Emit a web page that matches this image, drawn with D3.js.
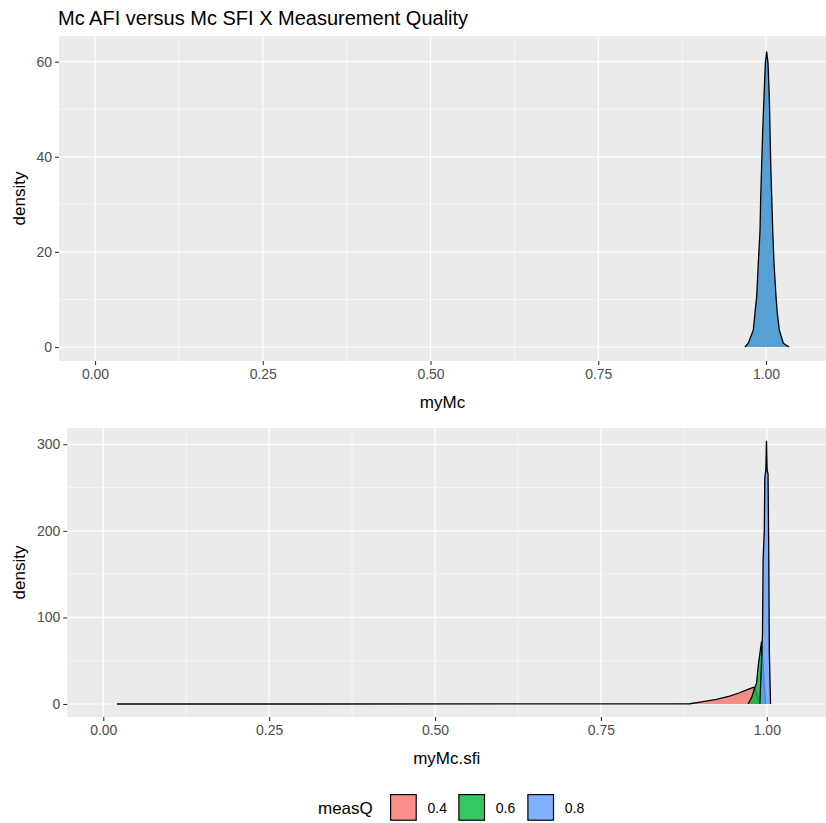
<!DOCTYPE html>
<html>
<head>
<meta charset="utf-8">
<script src="https://cdn.jsdelivr.net/npm/d3@7"></script>
<style>
  body { margin: 0; background: #fff; }
  svg { display: block; font-family: Arial, "Liberation Sans", sans-serif; }
</style>
</head>
<body>
<svg id="chart" width="826" height="823"></svg>
<script>
// ---------------- DATA ----------------
const chartTitle = "Mc AFI versus Mc SFI X Measurement Quality";
const xTicks = [0, 0.25, 0.5, 0.75, 1];
const xTickLabels = ["0.00", "0.25", "0.50", "0.75", "1.00"];
const topYTicks = [0, 20, 40, 60];
const bottomYTicks = [0, 100, 200, 300];
const legendTitle = "measQ";
const legendLabels = ["0.4", "0.6", "0.8"];
const legendColors = ["#F8766D", "#00BA38", "#619CFF"];

// top panel: density of myMc
const topX = [0.9687, 0.9736, 0.9811, 0.9836, 0.9861, 0.9885, 0.9911, 0.9921, 0.9936, 0.9951, 0.9970, 0.9990, 1.0010,
              1.0030, 1.0049, 1.0060, 1.0070, 1.0085, 1.0100, 1.0119, 1.0149, 1.0168, 1.0198, 1.0258, 1.0343];
const topDensity = [0, 0.8, 3.6, 7.2, 10.6, 17.6, 24.6, 31.6, 38.6, 45.6, 52.6, 59.7, 62.1,
                    59.7, 52.6, 45.6, 38.6, 31.6, 24.6, 17.6, 10.6, 7.2, 3.6, 0.8, 0];

// bottom panel: density of myMc.sfi by measQ
const redX = [0.0206, 0.30, 0.60, 0.80, 0.884, 0.904, 0.924, 0.944, 0.959, 0.9718, 0.9794, 0.9819, 0.9864, 0.9894];
const redDensity = [0, 0.01, 0.05, 0.15, 0.3, 2.7, 5.4, 9.2, 13, 17, 19.3, 19, 8, 0];
const greenX = [0.9718, 0.9774, 0.9819, 0.9845, 0.9875, 0.9902, 0.9920, 0.9940, 0.9962, 0.9985];
const greenDensity = [0, 8, 19, 24, 47, 62, 72, 50, 20, 0];
const blueX = [0.9895, 0.9920, 0.9935, 0.9944, 0.9962, 0.9970, 0.9985, 0.9995, 1.0005, 1.0019, 1.0030, 1.0038, 1.0056];
const blueDensity = [0, 47, 82, 166, 200, 262, 270, 304, 270, 266, 166, 60, 0];

// ---------------- DRAW ----------------
const svg = d3.select("#chart");
const tickCol = "#333333", labCol = "#4D4D4D";
const tickFont = 14, titleFont = 17;

svg.append("text").attr("x", 58).attr("y", 25).attr("font-size", 20).attr("fill", "#000").text(chartTitle);

function panel(cfg) {
  const g = svg.append("g");
  const x = d3.scaleLinear().domain(cfg.xDomain).range([cfg.left, cfg.right]);
  const y = d3.scaleLinear().domain(cfg.yDomain).range([cfg.bottom, cfg.top]);
  g.append("rect").attr("x", cfg.left).attr("y", cfg.top)
    .attr("width", cfg.right - cfg.left).attr("height", cfg.bottom - cfg.top).attr("fill", "#EBEBEB");
  // minor grid
  const xMinor = xTicks.slice(0, -1).map((t, i) => (t + xTicks[i + 1]) / 2);
  const yMinor = cfg.yTicks.slice(0, -1).map((t, i) => (t + cfg.yTicks[i + 1]) / 2);
  g.selectAll(".xm").data(xMinor).enter().append("line")
    .attr("x1", d => x(d)).attr("x2", d => x(d)).attr("y1", cfg.top).attr("y2", cfg.bottom)
    .attr("stroke", "#fff").attr("stroke-width", 0.6);
  g.selectAll(".ym").data(yMinor).enter().append("line")
    .attr("y1", d => y(d)).attr("y2", d => y(d)).attr("x1", cfg.left).attr("x2", cfg.right)
    .attr("stroke", "#fff").attr("stroke-width", 0.6);
  g.selectAll(".xM").data(xTicks).enter().append("line")
    .attr("x1", d => x(d)).attr("x2", d => x(d)).attr("y1", cfg.top).attr("y2", cfg.bottom)
    .attr("stroke", "#fff").attr("stroke-width", 1.2);
  g.selectAll(".yM").data(cfg.yTicks).enter().append("line")
    .attr("y1", d => y(d)).attr("y2", d => y(d)).attr("x1", cfg.left).attr("x2", cfg.right)
    .attr("stroke", "#fff").attr("stroke-width", 1.2);

  // series
  cfg.series.forEach(s => {
    const pts = s.xs.map((v, i) => [v, s.ys[i]]);
    const area = d3.area().x(d => x(d[0])).y0(y(0)).y1(d => y(d[1]));
    const line = d3.line().x(d => x(d[0])).y(d => y(d[1]));
    g.append("path").attr("d", area(pts)).attr("fill", s.fill).attr("fill-opacity", s.opacity);
    g.append("path").attr("d", line(pts)).attr("fill", "none").attr("stroke", "#000").attr("stroke-width", 1.3);
  });

  // axes
  const xAxis = d3.axisBottom(x).tickValues(xTicks).tickFormat((d, i) => xTickLabels[i]).tickSize(4).tickPadding(3);
  const ax = g.append("g").attr("transform", `translate(0,${cfg.bottom})`).call(xAxis);
  const yAxis = d3.axisLeft(y).tickValues(cfg.yTicks).tickSize(4).tickPadding(3);
  const ay = g.append("g").attr("transform", `translate(${cfg.left},0)`).call(yAxis);
  [ax, ay].forEach(a => {
    a.select(".domain").remove();
    a.selectAll(".tick line").attr("stroke", tickCol).attr("stroke-width", 1.1);
    a.selectAll(".tick text").attr("fill", labCol).attr("font-size", tickFont)
      .attr("font-family", 'Arial, "Liberation Sans", sans-serif');
  });
  ax.selectAll(".tick text").attr("dy", "0.75em");

  g.append("text").attr("x", (cfg.left + cfg.right) / 2).attr("y", cfg.bottom + 47)
    .attr("text-anchor", "middle").attr("font-size", titleFont).text(cfg.xTitle);
  g.append("text").attr("transform", `translate(25,${(cfg.top + cfg.bottom) / 2}) rotate(-90)`)
    .attr("text-anchor", "middle").attr("font-size", titleFont).text("density");
}

panel({
  left: 59, right: 826, top: 36, bottom: 361,
  xDomain: [-0.0537, 1.0894], yDomain: [-2.94, 65.4], yTicks: topYTicks, xTitle: "myMc",
  series: [{ xs: topX, ys: topDensity, fill: "#56A0D3", opacity: 1 }]
});

panel({
  left: 67.3, right: 826, top: 428, bottom: 717,
  xDomain: [-0.0542, 1.0892], yDomain: [-15.0, 318.8], yTicks: bottomYTicks, xTitle: "myMc.sfi",
  series: [
    { xs: redX, ys: redDensity, fill: legendColors[0], opacity: 0.8 },
    { xs: greenX, ys: greenDensity, fill: legendColors[1], opacity: 0.8 },
    { xs: blueX, ys: blueDensity, fill: legendColors[2], opacity: 0.8 }
  ]
});

// legend
const lg = svg.append("g");
lg.append("text").attr("x", 318).attr("y", 814).attr("font-size", titleFont).text(legendTitle);
const keyX = [390, 458.3, 527.3];
legendLabels.forEach((lab, i) => {
  lg.append("rect").attr("x", keyX[i] + 0.6).attr("y", 794.6).attr("width", 25.6).attr("height", 25.6)
    .attr("fill", legendColors[i]).attr("fill-opacity", 0.8).attr("stroke", "#000").attr("stroke-width", 1.2);
  lg.append("text").attr("x", keyX[i] + 37.5).attr("y", 812.5).attr("font-size", tickFont).text(lab);
});
</script>
</body>
</html>
